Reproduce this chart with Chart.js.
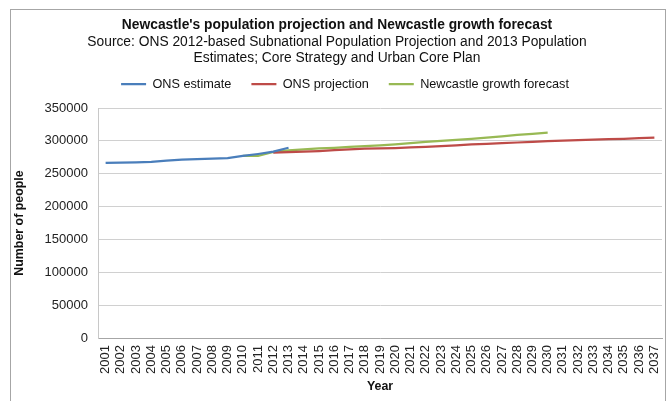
<!DOCTYPE html>
<html>
<head>
<meta charset="utf-8">
<script src="https://cdn.jsdelivr.net/npm/chart.js@4/dist/chart.umd.min.js"></script>
<style>
  html, body { margin: 0; padding: 0; background: #fff; }
  #wrap { width: 668px; height: 401px; position: relative; }
</style>
</head>
<body>
<div id="wrap"><canvas id="c" width="668" height="401"></canvas></div>
<script>
// Years on the horizontal axis
const years = [];
for (let y = 2001; y <= 2037; y++) years.push(String(y));

// Mid-year population estimates (ONS), 2001-2013
const onsEstimate = [
  266400, 267000, 267400, 268000, 270000, 271500, 272200, 273000, 273800, 277000,
  280000, 283500, 289500
];

// ONS 2012-based subnational projection, 2012-2037
const onsProjection = [
  282000, 283000, 283500, 284500, 286000, 287000, 288000, 288500, 289000, 290000,
  291000, 292000, 293000, 294500, 295500, 296500, 297500, 298500, 299500, 300200,
  301000, 301700, 302500, 303200, 304000, 305000
];

// Newcastle growth forecast (Core Strategy), 2010-2030
const growthForecast = [
  277000, 277300, 283000, 285500, 287000, 288500, 289500, 291000, 292000, 293000,
  294500, 296500, 298500, 300000, 301500, 303000, 305000, 307000, 309000, 310800,
  312700
];

// Y-axis tick range
const yMin = 0, yMax = 350000, yStep = 50000;

// Place a partial series on the full year axis
function alignTo(startYear, values) {
  const out = years.map(() => null);
  const offset = startYear - 2001;
  values.forEach((v, i) => { out[offset + i] = v; });
  return out;
}

const FONT = "'Liberation Sans', Arial, sans-serif";

// White page with a thin grey frame round the chart
const framePlugin = {
  id: 'frame',
  beforeDraw(chart) {
    const ctx = chart.ctx;
    ctx.save();
    ctx.fillStyle = '#ffffff';
    ctx.fillRect(0, 0, chart.width, chart.height);
    ctx.strokeStyle = '#a6a6a6';
    ctx.lineWidth = 1;
    ctx.strokeRect(10.5, 9.5, 655, 400);
    ctx.restore();
  },
  // nudge the centred legend row slightly to the right
  afterLayout(chart) {
    if (chart.legend) {
      chart.legend.left += 8;
      chart.legend.right += 8;
    }
  }
};

const LINE_W = 2.25;

new Chart(document.getElementById('c'), {
  type: 'line',
  data: {
    labels: years,
    datasets: [
      { label: 'ONS estimate', data: alignTo(2001, onsEstimate), borderColor: '#4a7ebb', backgroundColor: '#4a7ebb', borderWidth: LINE_W },
      { label: 'ONS projection', data: alignTo(2012, onsProjection), borderColor: '#be4b48', backgroundColor: '#be4b48', borderWidth: LINE_W },
      { label: 'Newcastle growth forecast', data: alignTo(2010, growthForecast), borderColor: '#98b954', backgroundColor: '#98b954', borderWidth: LINE_W }
    ]
  },
  options: {
    responsive: false,
    animation: false,
    devicePixelRatio: 1,
    layout: { padding: { top: 8, left: 6, right: 0, bottom: 0 } },
    elements: {
      point: { radius: 0, hoverRadius: 0 },
      line: { tension: 0, spanGaps: false }
    },
    plugins: {
      // box order top to bottom: title, legend, subtitle (subtitle text is lifted above the legend)
      title: {
        display: true,
        weight: 2000,
        text: "Newcastle's population projection and Newcastle growth forecast",
        color: '#111',
        font: { family: FONT, size: 13.8, weight: 'bold', lineHeight: 16 / 13.8 },
        padding: { top: 9, bottom: 24.65 }
      },
      legend: {
        display: true,
        position: 'top',
        weight: 1500,
        labels: {
          usePointStyle: true,
          pointStyle: 'line',
          pointStyleWidth: 25,
          padding: 20,
          color: '#111',
          font: { family: FONT, size: 12.7 }
        }
      },
      subtitle: {
        display: true,
        weight: 1000,
        text: ['Source: ONS 2012-based Subnational Population Projection and 2013 Population',
               'Estimates; Core Strategy and Urban Core Plan'],
        color: '#111',
        font: { family: FONT, size: 13.8, lineHeight: 16 / 13.8 },
        padding: { top: -66.35, bottom: 42 }
      },
      tooltip: { enabled: false }
    },
    scales: {
      x: {
        offset: true,
        grid: { display: false, drawTicks: false },
        border: { display: true, color: '#a6a6a6', width: 1 },
        ticks: {
          autoSkip: false, minRotation: 90, maxRotation: 90, padding: 7,
          color: '#222', font: { family: FONT, size: 13 }
        },
        title: {
          display: true, text: 'Year', color: '#111',
          font: { family: FONT, size: 12.4, weight: 'bold', lineHeight: 1.2 },
          padding: { top: 0, bottom: 7 }
        },
        afterFit(scale) {
          scale.height = 63;
          scale.paddingRight = 6;
        }
      },
      y: {
        min: yMin, max: yMax,
        grid: { color: '#d0d0d0', drawTicks: false },
        border: { display: true, color: '#c8c8c8', width: 1 },
        ticks: {
          stepSize: yStep, padding: 10, color: '#222',
          font: { family: FONT, size: 13 },
          callback: v => String(v)
        },
        title: {
          display: true, text: 'Number of people', color: '#111',
          font: { family: FONT, size: 12.4, weight: 'bold', lineHeight: 1.2 },
          padding: { top: 6.6, bottom: 0 }
        },
        afterFit(scale) { scale.width = 92; }
      }
    }
  },
  plugins: [framePlugin]
});
</script>
</body>
</html>
